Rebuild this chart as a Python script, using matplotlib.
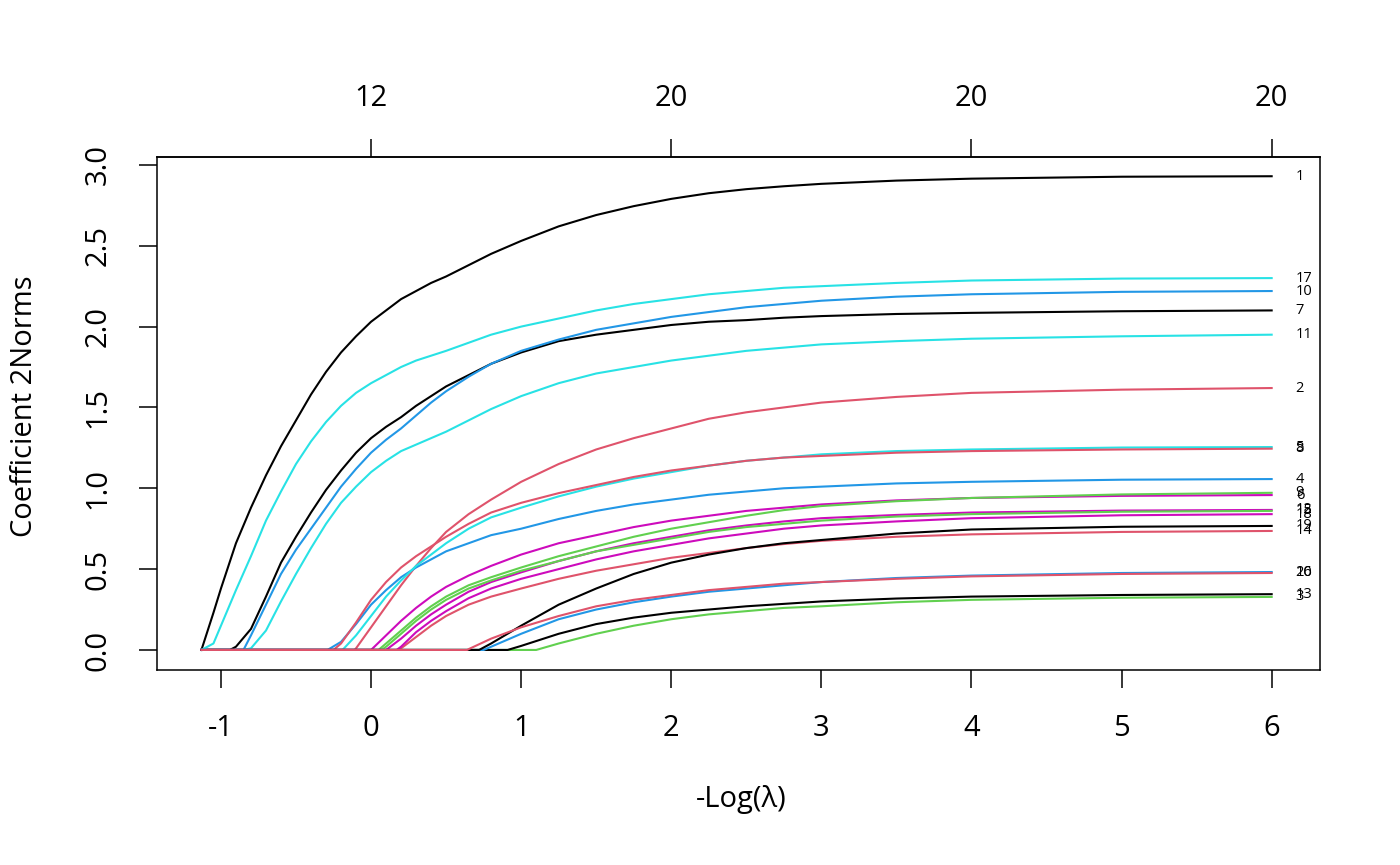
import matplotlib
matplotlib.use("Agg")
import matplotlib.pyplot as plt

plt.rcParams['font.family'] = ['Open Sans', 'DejaVu Sans']
plt.rcParams['axes.unicode_minus'] = False

neg_log_lambda = [-1.13, -1.05, -1.0, -0.9, -0.8, -0.7, -0.6, -0.5, -0.4, -0.3,
                  -0.2, -0.1, 0.0, 0.1, 0.2, 0.3, 0.4, 0.5, 0.65, 0.8,
                  1.0, 1.25, 1.5, 1.75, 2.0, 2.25, 2.5, 2.75, 3.0, 3.5, 4.0, 5.0, 6.0]

# where each group (1..20) leaves zero
entry_points = [-1.13, -0.11, 1.10, -0.29, -0.19, 0.00, -0.94, -0.25, 0.05, -0.85,
                -0.85, 0.10, 0.91, 0.19, 0.07, 0.75, -1.13, 0.17, 0.72, 0.64]

# coefficient 2-norms of each group
g1 = [0, 0.23, 0.38, 0.66, 0.88, 1.08, 1.26, 1.42, 1.58, 1.72, 1.84, 1.94, 2.03, 2.10, 2.17,
      2.22, 2.27, 2.31, 2.38, 2.45, 2.53, 2.62,
      2.69, 2.745, 2.79, 2.825, 2.85, 2.868, 2.883, 2.903, 2.915, 2.927, 2.93]
g2 = [0] * 11 + [0.01, 0.14, 0.27, 0.40, 0.52, 0.63, 0.73, 0.84, 0.93, 1.04, 1.15,
                 1.24, 1.31, 1.37, 1.43, 1.47, 1.50, 1.53, 1.565, 1.59, 1.61, 1.62]
g3 = [0] * 21 + [0.04, 0.10, 0.15, 0.19, 0.22, 0.24, 0.26, 0.27, 0.295, 0.31, 0.323, 0.328]
g4 = [0] * 10 + [0.05, 0.16, 0.28, 0.37, 0.45, 0.51, 0.56, 0.61, 0.66, 0.71, 0.75, 0.81,
                 0.86, 0.90, 0.93, 0.96, 0.98, 1.00, 1.01, 1.03, 1.04, 1.053, 1.057]
g5 = [0] * 11 + [0.09, 0.21, 0.33, 0.43, 0.52, 0.59, 0.66, 0.75, 0.82, 0.88, 0.95,
                 1.01, 1.06, 1.10, 1.14, 1.17, 1.19, 1.21, 1.23, 1.24, 1.252, 1.255]
g6 = [0] * 13 + [0.09, 0.18, 0.26, 0.33, 0.39, 0.46, 0.52, 0.59, 0.66,
                 0.71, 0.76, 0.80, 0.83, 0.86, 0.88, 0.90, 0.925, 0.94, 0.953, 0.958]
g7 = [0] * 3 + [0.02, 0.13, 0.33, 0.54, 0.70, 0.85, 0.99, 1.11, 1.22, 1.31, 1.38, 1.44,
                1.51, 1.57, 1.63, 1.70, 1.77, 1.84, 1.91,
                1.95, 1.98, 2.01, 2.03, 2.04, 2.055, 2.065, 2.078, 2.085, 2.095, 2.10]
g8 = [0] * 10 + [0.04, 0.17, 0.31, 0.42, 0.51, 0.58, 0.64, 0.70, 0.78, 0.85, 0.91, 0.97,
                 1.02, 1.07, 1.11, 1.14, 1.17, 1.19, 1.20, 1.22, 1.23, 1.24, 1.245]
g9 = [0] * 13 + [0.04, 0.12, 0.20, 0.27, 0.33, 0.40, 0.45, 0.51, 0.58,
                 0.64, 0.70, 0.75, 0.79, 0.83, 0.865, 0.89, 0.92, 0.94, 0.962, 0.972]
g10 = [0] * 4 + [0.09, 0.28, 0.47, 0.62, 0.75, 0.88, 1.01, 1.12, 1.22, 1.30, 1.37,
                 1.45, 1.53, 1.60, 1.69, 1.77, 1.85, 1.92,
                 1.98, 2.02, 2.06, 2.09, 2.12, 2.14, 2.16, 2.185, 2.20, 2.215, 2.22]
g11 = [0] * 4 + [0.01, 0.12, 0.30, 0.47, 0.63, 0.78, 0.91, 1.01, 1.10, 1.17, 1.23,
                 1.27, 1.31, 1.35, 1.42, 1.49, 1.57, 1.65,
                 1.71, 1.75, 1.79, 1.82, 1.85, 1.87, 1.89, 1.91, 1.925, 1.94, 1.95]
g12 = [0] * 14 + [0.07, 0.15, 0.22, 0.28, 0.36, 0.42, 0.48, 0.55,
                  0.61, 0.66, 0.70, 0.74, 0.77, 0.795, 0.815, 0.835, 0.85, 0.862, 0.866]
g13 = [0] * 20 + [0.025, 0.10, 0.16, 0.20, 0.23, 0.25, 0.27, 0.285, 0.30, 0.318, 0.33, 0.34, 0.345]
g14 = [0] * 14 + [0.01, 0.08, 0.15, 0.21, 0.28, 0.33, 0.38, 0.44,
                  0.49, 0.53, 0.57, 0.60, 0.63, 0.655, 0.675, 0.70, 0.715, 0.73, 0.736]
g15 = [0] * 13 + [0.02, 0.10, 0.18, 0.25, 0.31, 0.38, 0.43, 0.49, 0.55,
                  0.61, 0.65, 0.69, 0.73, 0.76, 0.78, 0.80, 0.825, 0.84, 0.855, 0.86]
g16 = [0] * 19 + [0.02, 0.10, 0.19, 0.25, 0.295, 0.33, 0.36, 0.38, 0.40, 0.42, 0.445, 0.46, 0.476, 0.482]
g17 = [0, 0.04, 0.15, 0.37, 0.58, 0.80, 0.98, 1.15, 1.29, 1.41, 1.51, 1.59, 1.65, 1.70, 1.75,
       1.79, 1.82, 1.85, 1.90, 1.95, 2.00, 2.05,
       2.10, 2.14, 2.17, 2.20, 2.22, 2.24, 2.25, 2.27, 2.285, 2.297, 2.30]
g18 = [0] * 14 + [0.02, 0.11, 0.18, 0.24, 0.32, 0.38, 0.44, 0.50,
                  0.56, 0.61, 0.65, 0.69, 0.72, 0.75, 0.77, 0.795, 0.815, 0.833, 0.84]
g19 = [0] * 19 + [0.04, 0.15, 0.28, 0.38, 0.47, 0.54, 0.59, 0.63, 0.66, 0.68, 0.72, 0.745, 0.762, 0.767]
g20 = [0] * 18 + [0.005, 0.07, 0.14, 0.21, 0.27, 0.31, 0.34, 0.37, 0.39, 0.41, 0.42, 0.44, 0.455, 0.47, 0.476]

groups = [g1, g2, g3, g4, g5, g6, g7, g8, g9, g10,
          g11, g12, g13, g14, g15, g16, g17, g18, g19, g20]

x_ticks = [-1, 0, 1, 2, 3, 4, 5, 6]
y_ticks = [0.0, 0.5, 1.0, 1.5, 2.0, 2.5, 3.0]
top_ticks = [0, 2, 4, 6]
top_labels = ['12', '20', '20', '20']

palette = ['#000000', '#DF536B', '#61D04F', '#2297E6', '#28E2E5', '#CD0BBC']

fig = plt.figure(figsize=(14, 8.65), dpi=100)
ax = fig.add_axes([157 / 1400, 1 - 670 / 865, (1320 - 157) / 1400, (670 - 157) / 865])

for k, vals in enumerate(groups):
    assert len(vals) == len(neg_log_lambda), k + 1
    e = entry_points[k]
    xs = [neg_log_lambda[0], e] + [x for x, v in zip(neg_log_lambda, vals) if x > e]
    ys = [0, 0] + [v for x, v in zip(neg_log_lambda, vals) if x > e]
    ax.plot(xs, ys, color=palette[k % 6], lw=1.5, solid_joinstyle='round')
    ax.text(6.16, vals[-1], str(k + 1), fontsize=10.5, ha='left', va='center',
            clip_on=False)

ax.set_xlim(-1.426, 6.322)
ax.set_ylim(-0.124, 3.049)
ax.set_xticks(x_ticks, labels=[str(t) for t in x_ticks])
ax.set_yticks(y_ticks, labels=[f"{t:.1f}" for t in y_ticks])
ax.tick_params(axis='both', length=13, width=1.1, labelsize=21, pad=19)
ax.tick_params(axis='y', labelrotation=90)
for lab in ax.get_yticklabels():
    lab.set_va('center')
for sp in ax.spines.values():
    sp.set_linewidth(1.1)

top = ax.secondary_xaxis('top')
top.set_xticks(top_ticks, labels=top_labels)
top.tick_params(length=13, width=1.1, labelsize=21, pad=19)
top.spines['top'].set_linewidth(1.1)

fig.text(741 / 1400, 1 - 800 / 865, '-Log(\u03bb)', fontsize=21, ha='center', va='center')
fig.text(25 / 1400, 1 - 406 / 865, 'Coefficient 2Norms', fontsize=21, rotation=90,
         ha='center', va='center')

fig.savefig('out.png', dpi=100)
